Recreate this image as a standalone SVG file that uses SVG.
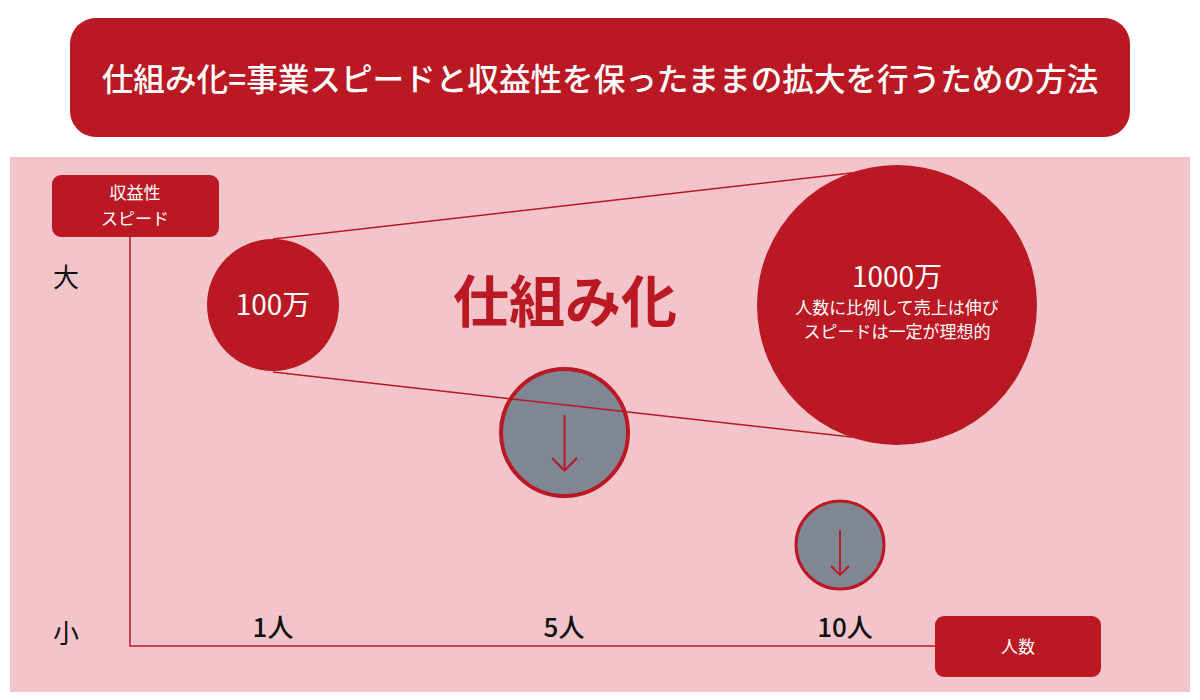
<svg xmlns="http://www.w3.org/2000/svg" width="1200" height="700" viewBox="0 0 1200 700">
<style>
.t{font-family:"Noto Sans CJK JP","Noto Sans",sans-serif;}
.w{fill:#FFFFFF;}
.k{fill:#111111;}
.m{font-weight:500;}
.conn{stroke:#BA1823;fill:none;}
</style>
<rect x="0" y="0" width="1200" height="700" fill="#FFFFFF"/>
<g id="title">
<rect x="70" y="18" width="1060" height="119" rx="26" fill="#BA1823"/>
<text class="t w m" x="600" y="91" font-size="31.6" text-anchor="middle">仕組み化=事業スピードと収益性を保ったままの拡大を行うための方法</text>
</g>
<rect x="10" y="157" width="1180" height="535" fill="#F4C4CB"/>
<g id="ylabel">
<rect x="52" y="175" width="167" height="62" rx="9" fill="#BA1823"/>
<text class="t w" x="135" y="199" font-size="17" text-anchor="middle">収益性</text>
<text class="t w" x="135" y="225" font-size="17" text-anchor="middle">スピード</text>
</g>
<g id="axis-labels">
<text class="t k" x="66" y="287" font-size="26" text-anchor="middle">大</text>
<text class="t k" x="66" y="643" font-size="26" text-anchor="middle">小</text>
<text class="t k m" x="273" y="637" font-size="26" text-anchor="middle">1人</text>
<text class="t k m" x="564" y="637" font-size="26" text-anchor="middle">5人</text>
<text class="t k m" x="845" y="637" font-size="26" text-anchor="middle">10人</text>
</g>
<g id="c100">
<circle cx="273" cy="305" r="66" fill="#BA1823"/>
<text class="t w" x="273" y="315" font-size="28" text-anchor="middle">100万</text>
</g>
<g id="gray1">
<circle cx="564.5" cy="432.5" r="63.5" fill="#7E8793" stroke="#BA1823" stroke-width="4"/>
<path class="conn" d="M564.5 415 V470 M552 458 L564.5 470.5 L577 458" stroke-width="2"/>
</g>
<g id="gray2">
<circle cx="840" cy="545" r="44" fill="#7E8793" stroke="#BA1823" stroke-width="3"/>
<path class="conn" d="M840 530 V575 M831 566 L840 575 L849 566" stroke-width="1.8"/>
</g>
<g id="connectors">
<line class="conn" x1="273" y1="239" x2="860" y2="172" stroke-width="1.5"/>
<line class="conn" x1="273" y1="372" x2="860" y2="438" stroke-width="1.5"/>
<path class="conn" d="M130 237 V646 H935" stroke-width="1.5"/>
</g>
<g id="c1000">
<circle cx="897" cy="305" r="140" fill="#BA1823"/>
<text class="t w" x="897" y="287" font-size="28" text-anchor="middle">1000万</text>
<text class="t w" x="897" y="314" font-size="17" text-anchor="middle">人数に比例して売上は伸び</text>
<text class="t w" x="897" y="338" font-size="17" text-anchor="middle">スピードは一定が理想的</text>
</g>
<g id="main">
<text class="t" x="565" y="322" font-size="56" font-weight="bold" fill="#BA1823" text-anchor="middle">仕組み化</text>
</g>
<g id="xlabel">
<rect x="935" y="616" width="166" height="61" rx="9" fill="#BA1823"/>
<text class="t w" x="1018" y="653" font-size="17" text-anchor="middle">人数</text>
</g>
</svg>
